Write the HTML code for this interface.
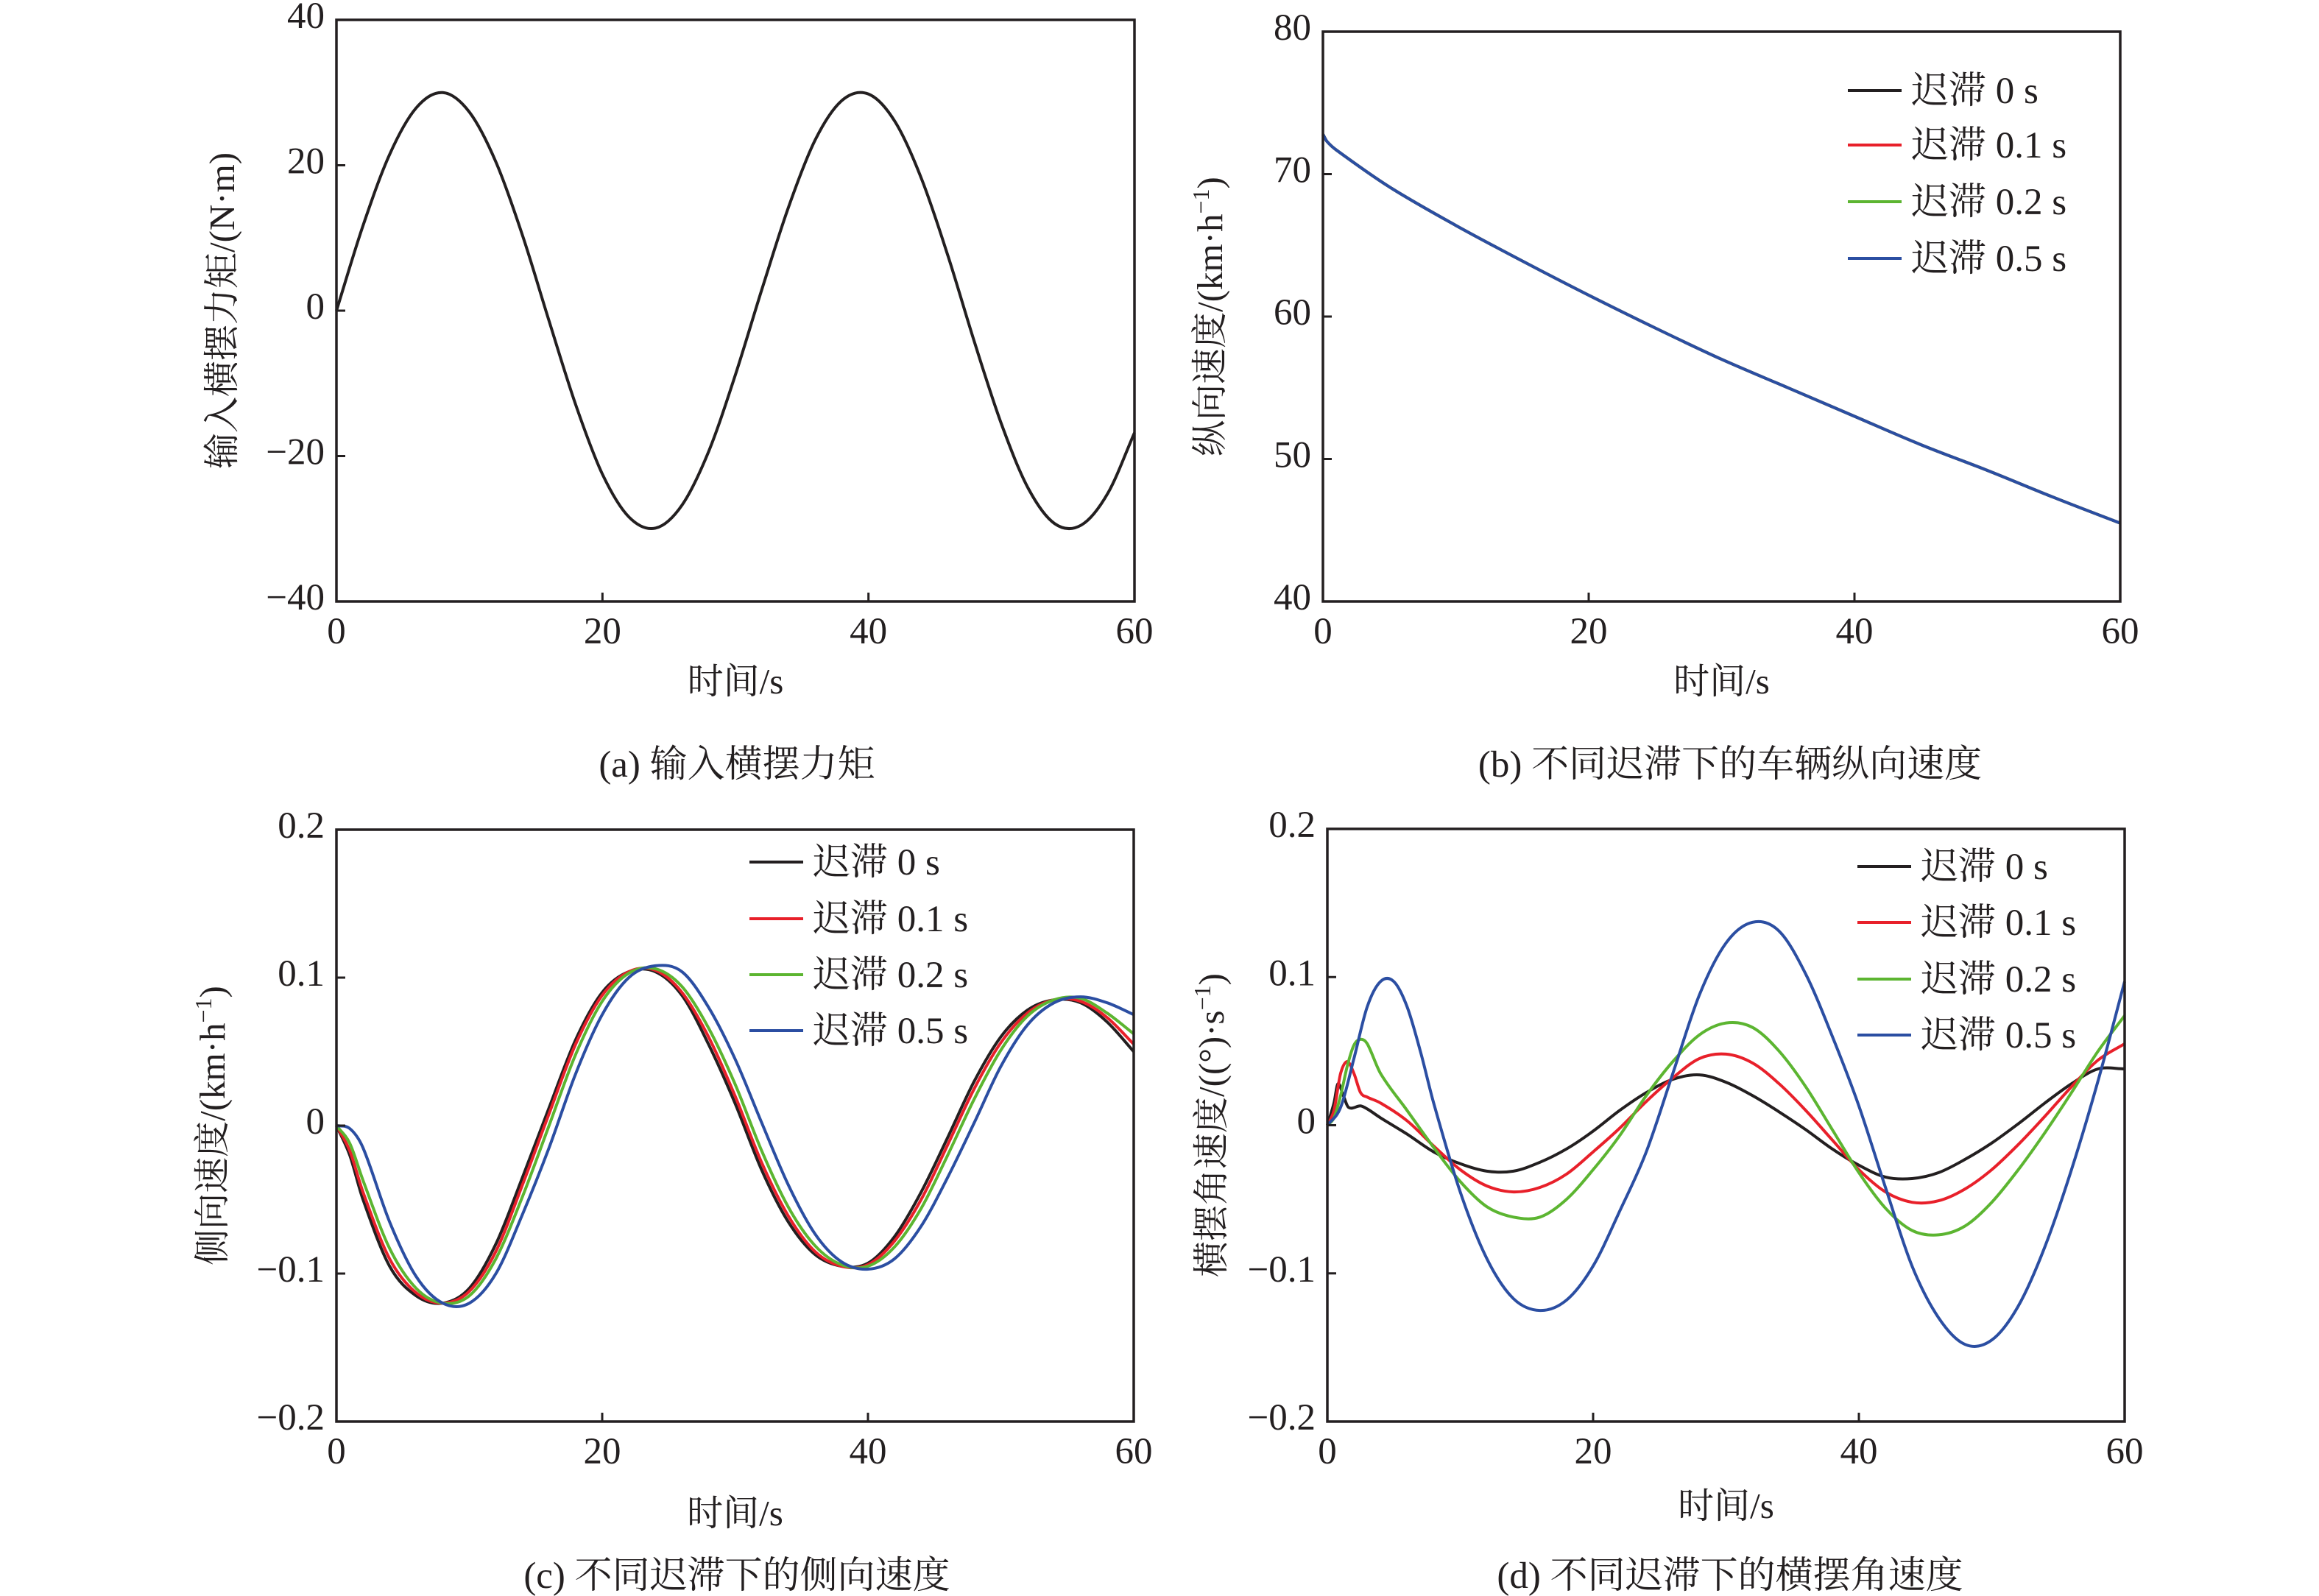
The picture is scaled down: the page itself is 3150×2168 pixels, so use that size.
<!DOCTYPE html>
<html><head><meta charset="utf-8"><style>
html,body{margin:0;padding:0;background:#fff;}
svg{display:block;}
text{font-family:"Liberation Serif","Noto Serif CJK SC",serif;fill:#231f20;}
</style></head><body>
<svg id="fig" width="3150" height="2168" viewBox="0 0 3150 2168" xmlns="http://www.w3.org/2000/svg"></svg>
<script>
// ---- data ----
const tA=[0,2,4,6,8,10,12,14,16,18,20,22,24,26,28,30,32,34,36,38,40,42,44,46,48,50,52,54,56,58,60];
const torque=[0,11.7,21.5,27.9,30.0,27.3,20.4,10.3,-1.5,-13.0,-22.5,-28.4,-29.9,-26.7,-19.3,-8.8,3.0,14.3,23.5,28.9,29.8,26.0,18.1,7.4,-4.5,-15.6,-24.4,-29.3,-29.5,-25.1,-16.8];

const tB=[0,0.3,1,5,10,15,20,25,30,35,40,45,50,55,60];
const vx0=[72.8,72.3,71.7,69.1,66.4,63.9,61.5,59.2,57.0,55.0,53.0,51.0,49.2,47.3,45.5];
const vx1=[72.8,72.3,71.7,69.1,66.4,63.9,61.5,59.2,57.0,55.0,53.0,51.0,49.2,47.3,45.5];
const vx2=[72.8,72.3,71.7,69.1,66.4,63.9,61.5,59.2,57.0,55.0,53.0,51.0,49.2,47.3,45.5];
const vx5=[72.8,72.3,71.7,69.1,66.4,63.9,61.5,59.2,57.0,55.0,53.0,51.0,49.2,47.3,45.5];

const tC=[0,1,2,4,6,8,10,12,14,16,18,20,22,24,26,28,30,32,34,36,38,40,42,44,46,48,50,52,54,56,58,60];
const vy0=[0,-0.02,-0.05,-0.095,-0.115,-0.12,-0.11,-0.08,-0.035,0.012,0.058,0.09,0.104,0.104,0.088,0.055,0.015,-0.03,-0.065,-0.087,-0.095,-0.093,-0.075,-0.045,-0.008,0.03,0.06,0.078,0.085,0.083,0.07,0.05];
const vy1=[0,-0.017,-0.045,-0.09,-0.113,-0.12,-0.112,-0.085,-0.04,0.008,0.055,0.088,0.104,0.105,0.09,0.06,0.02,-0.025,-0.061,-0.085,-0.095,-0.094,-0.078,-0.05,-0.013,0.025,0.056,0.076,0.085,0.084,0.073,0.055];
const vy2=[0,-0.012,-0.037,-0.083,-0.11,-0.12,-0.115,-0.09,-0.048,0,0.048,0.084,0.103,0.106,0.094,0.066,0.028,-0.017,-0.055,-0.081,-0.094,-0.095,-0.082,-0.056,-0.02,0.018,0.051,0.074,0.085,0.086,0.076,0.062];
const vy5=[0,-0.002,-0.015,-0.065,-0.102,-0.12,-0.12,-0.1,-0.06,-0.015,0.035,0.075,0.1,0.108,0.104,0.08,0.045,0.002,-0.04,-0.073,-0.092,-0.097,-0.09,-0.068,-0.035,0.002,0.04,0.068,0.083,0.087,0.083,0.075];

const tD0=[0,0.5,0.8,1.2,1.6,2.5,3,4,6,8,10,12,14,16,18,20,22,24,26,28,30,32,34,36,38,40,42,44,46,48,50,52,54,56,58,60];
const yr0=[0,0.015,0.028,0.02,0.012,0.013,0.011,0.005,-0.006,-0.018,-0.026,-0.031,-0.031,-0.025,-0.016,-0.004,0.01,0.022,0.031,0.034,0.029,0.02,0.009,-0.003,-0.016,-0.027,-0.035,-0.036,-0.032,-0.023,-0.012,0.001,0.015,0.028,0.038,0.038];
const tD1=[0,0.5,1,1.5,2,2.5,3,4,6,8,10,12,14,16,18,20,22,24,26,28,30,32,34,36,38,40,42,44,46,48,50,52,54,56,58,60];
const yr1=[0,0.01,0.035,0.043,0.035,0.022,0.019,0.015,0.003,-0.014,-0.03,-0.041,-0.045,-0.042,-0.033,-0.018,-0.002,0.016,0.032,0.045,0.048,0.042,0.028,0.01,-0.01,-0.03,-0.045,-0.052,-0.051,-0.043,-0.03,-0.013,0.006,0.026,0.044,0.055];
const yr2=[0,0.005,0.02,0.04,0.054,0.058,0.055,0.035,0.01,-0.015,-0.038,-0.055,-0.062,-0.062,-0.05,-0.03,-0.007,0.02,0.043,0.061,0.069,0.066,0.05,0.026,-0.003,-0.032,-0.056,-0.071,-0.074,-0.068,-0.052,-0.03,-0.005,0.022,0.05,0.074];
const tD5=[0,1,2,3,4,5,6,7,8,10,12,14,16,18,20,22,24,26,28,30,32,34,36,38,40,42,44,46,48,50,52,54,56,58,60];
const yr5=[0,0.012,0.045,0.08,0.097,0.097,0.08,0.05,0.015,-0.045,-0.09,-0.117,-0.125,-0.118,-0.095,-0.058,-0.018,0.035,0.088,0.123,0.137,0.131,0.102,0.06,0.013,-0.042,-0.095,-0.13,-0.148,-0.145,-0.122,-0.082,-0.03,0.03,0.097];

const legendLabels=["迟滞 0 s","迟滞 0.1 s","迟滞 0.2 s","迟滞 0.5 s"];
const xTicks=[0,20,40,60];
const yTicksA=[-40,-20,0,20,40];
const yTicksB=[40,50,60,70,80];
const yTicksC=[-0.2,-0.1,0,0.1,0.2];
const COLORS=["#231f20","#e8202a","#5cb531","#2b4ea2"];

const NS="http://www.w3.org/2000/svg";
const svg=document.getElementById('fig');
function mk(tag,attrs,parent){const e=document.createElementNS(NS,tag);for(const k in attrs)e.setAttribute(k,attrs[k]);(parent||svg).appendChild(e);return e;}
function fmt(v){if(v<0)return "\u2212"+fmt(-v);return String(v);}
function smooth(pts){
 const n=pts.length, m=[];
 for(let i=0;i<n;i++){const a=pts[Math.max(0,i-1)],b=pts[Math.min(n-1,i+1)];m.push((b[1]-a[1])/(b[0]-a[0]));}
 let d="M"+pts[0][0].toFixed(1)+","+pts[0][1].toFixed(1);
 for(let i=0;i<n-1;i++){const p1=pts[i],p2=pts[i+1],h=(p2[0]-p1[0])/3;
  d+=" C"+(p1[0]+h).toFixed(1)+","+(p1[1]+m[i]*h).toFixed(1)+" "+(p2[0]-h).toFixed(1)+","+(p2[1]-m[i+1]*h).toFixed(1)+" "+p2[0].toFixed(1)+","+p2[1].toFixed(1);}
 return d;}

function panel(cfg){
 const g=mk('g',{});
 
 
 const {L,T,R,B,ymin,ymax}=cfg;
 const sx=v=>L+(v-0)/60*(R-L), sy=v=>B-(v-ymin)/(ymax-ymin)*(B-T);
 cfg.series.forEach((s,i)=>{
  const p=mk('path',{d:smooth(s.t.map((t,j)=>[sx(t),sy(s.v[j])])),fill:"none",stroke:s.c,"stroke-width":4,"stroke-linejoin":"round"},g);
  
  
 });
 const f=mk('rect',{x:L,y:T,width:R-L,height:B-T,fill:"none",stroke:"#231f20","stroke-width":3.5},g);
 
 
 xTicks.forEach(v=>{
  mk('line',{x1:sx(v),x2:sx(v),y1:B,y2:B-12,stroke:"#231f20","stroke-width":3},g);
  const t=mk('text',{x:sx(v),y:B+57,"font-size":51,"text-anchor":"middle"},g);t.textContent=fmt(v);
  
  
 });
 cfg.yt.forEach(v=>{
  mk('line',{x1:L,x2:L+12,y1:sy(v),y2:sy(v),stroke:"#231f20","stroke-width":3},g);
  const t=mk('text',{x:L-16,y:sy(v)+11,"font-size":51,"text-anchor":"end"},g);t.textContent=fmt(v);
  
  
 });
 const xt=mk('text',{x:(L+R)/2,y:cfg.xtY,"font-size":49,"text-anchor":"middle"},g);xt.textContent="时间/s";
 
 
 const yt=mk('text',{x:0,y:0,"font-size":49,"text-anchor":"middle",transform:`translate(${cfg.ytX},${(T+B)/2}) rotate(-90)`},g);
 yt.innerHTML=cfg.ytitle;
 
 
 const cap=mk('text',{x:cfg.capX,y:cfg.capY,"font-size":51,"text-anchor":"middle"},g);cap.textContent=cfg.caption;
 
 
 if(cfg.leg){
  legendLabels.forEach((lab,i)=>{
   const y=cfg.leg.y[i];
   const ln=mk('line',{x1:cfg.leg.x,x2:cfg.leg.x+73,y1:y,y2:y,stroke:COLORS[i],"stroke-width":4},g);
   
   
   const t=mk('text',{x:cfg.leg.x+86,y:y+17,"font-size":51},g);t.textContent=lab;
   
   
  });
 }
}
const sup=s=>`<tspan baseline-shift="super" font-size="32">${s}</tspan>`;
panel({name:'panel-a-input-yaw-moment',L:457,T:27,R:1541,B:817,ymin:-40,ymax:40,yt:yTicksA,xtY:942,ytX:318,
 ytitle:"输入横摆力矩/(N·m)",caption:"(a) 输入横摆力矩",capX:1001,capY:1055,
 series:[{id:'torque',t:tA,v:torque,c:COLORS[0]}]});
panel({name:'panel-b-longitudinal-speed',L:1797,T:43,R:2880,B:817,ymin:40,ymax:80,yt:yTicksB,xtY:942,ytX:1660,
 ytitle:"纵向速度/(km·h"+sup("−1")+")",caption:"(b) 不同迟滞下的车辆纵向速度",capX:2350,capY:1055,
 leg:{x:2510,y:[123,197,274,351]},
 series:[{id:'delay-0',t:tB,v:vx0,c:COLORS[0]},{id:'delay-0.1',t:tB,v:vx1,c:COLORS[1]},{id:'delay-0.2',t:tB,v:vx2,c:COLORS[2]},{id:'delay-0.5',t:tB,v:vx5,c:COLORS[3]}]});
panel({name:'panel-c-lateral-speed',L:457,T:1127,R:1540,B:1931,ymin:-0.2,ymax:0.2,yt:yTicksC,xtY:2072,ytX:305,
 ytitle:"侧向速度/(km·h"+sup("−1")+")",caption:"(c) 不同迟滞下的侧向速度",capX:1001,capY:2157,
 leg:{x:1018,y:[1171,1248,1324,1400]},
 series:[{id:'delay-0',t:tC,v:vy0,c:COLORS[0]},{id:'delay-0.1',t:tC,v:vy1,c:COLORS[1]},{id:'delay-0.2',t:tC,v:vy2,c:COLORS[2]},{id:'delay-0.5',t:tC,v:vy5,c:COLORS[3]}]});
panel({name:'panel-d-yaw-rate',L:1803,T:1126,R:2886,B:1931,ymin:-0.2,ymax:0.2,yt:yTicksC,xtY:2062,ytX:1662,
 ytitle:"横摆角速度/((°)·s"+sup("−1")+")",caption:"(d) 不同迟滞下的横摆角速度",capX:2350,capY:2157,
 leg:{x:2523,y:[1177,1253,1330,1406]},
 series:[{id:'delay-0',t:tD0,v:yr0,c:COLORS[0]},{id:'delay-0.1',t:tD1,v:yr1,c:COLORS[1]},{id:'delay-0.2',t:tD1,v:yr2,c:COLORS[2]},{id:'delay-0.5',t:tD5,v:yr5,c:COLORS[3]}]});
</script>
</body></html>
